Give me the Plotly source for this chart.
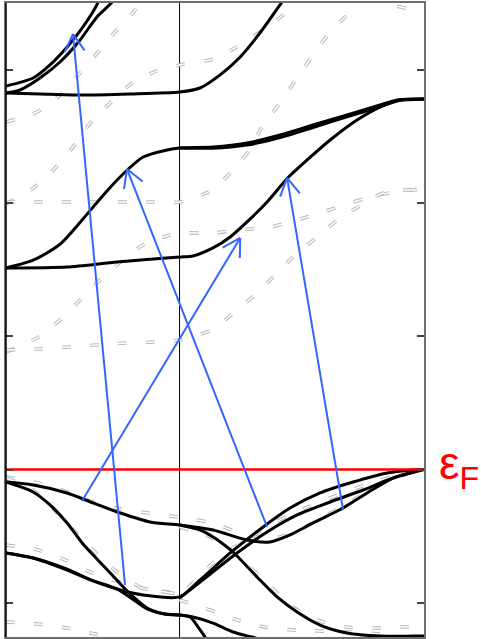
import math
import plotly.graph_objects as go

# k-path: L (left edge) -> Gamma (0) -> X (right edge); energies relative to E_F
K_L, K_G, K_X = -0.71, 0.0, 1.0
E_MIN, E_MAX = -1.2566, 3.4996
E_TICKS = [-1, 0, 1, 2, 3]

# ---- solid bands (k, E) ----
band1_k = [-0.710, -0.599, -0.530, -0.460, -0.395, -0.333, -0.320]
band1_e = [2.877, 2.937, 3.035, 3.170, 3.320, 3.507, 3.600]

band2_k = [-0.710, -0.653, -0.571, -0.489, -0.407, -0.338, -0.276, -0.262]
band2_e = [2.824, 2.847, 2.937, 3.057, 3.222, 3.395, 3.507, 3.560]

band3_k = [-0.710, -0.571, -0.407, -0.202, 0.0, 0.084, 0.166, 0.248, 0.329, 0.419, 0.440]
band3_e = [2.824, 2.817, 2.809, 2.817, 2.832, 2.862, 2.960, 3.095, 3.275, 3.507, 3.560]

band4_k = [-0.710, -0.599, -0.489, -0.395, -0.297, -0.215, -0.149, -0.051, 0.0,
           0.137, 0.276, 0.411, 0.546, 0.685, 0.820, 0.890, 1.0]
band4_e = [1.512, 1.570, 1.690, 1.880, 2.090, 2.245, 2.344, 2.397, 2.412,
           2.419, 2.449, 2.509, 2.584, 2.659, 2.734, 2.772, 2.779]

band4b_k = [0.0, 0.137, 0.276, 0.411, 0.546, 0.685, 0.820, 0.890, 1.0]
band4b_e = [2.412, 2.410, 2.434, 2.490, 2.566, 2.645, 2.722, 2.765, 2.779]

band5_k = [-0.710, -0.460, -0.256, 0.0, 0.055, 0.137, 0.207, 0.276, 0.358, 0.444,
           0.522, 0.616, 0.726, 0.820, 0.902, 1.0]
band5_e = [1.512, 1.519, 1.557, 1.594, 1.602, 1.662, 1.744, 1.857, 2.007, 2.190,
           2.322, 2.472, 2.622, 2.719, 2.772, 2.779]

band6_k = [-0.710, -0.599, -0.460, -0.354, -0.243, -0.121, 0.0,
           0.137, 0.276, 0.370, 0.452, 0.546, 0.669, 0.767, 0.874, 1.0]
band6_e = [-0.094, -0.116, -0.176, -0.251, -0.326, -0.394, -0.416,
           -0.454, -0.529, -0.544, -0.491, -0.401, -0.289, -0.176, -0.064, 0.0]

band7_k = [-0.710, -0.599, -0.530, -0.460, -0.395, -0.338, -0.276, -0.215, -0.133, -0.060, 0.0,
           0.043, 0.076, 0.104, 0.121]
band7_e = [-0.094, -0.169, -0.266, -0.401, -0.559, -0.671, -0.791, -0.911, -1.039, -1.084, -1.092,
           -1.107, -1.182, -1.257, -1.317]

band8_k = [-0.710, -0.599, -0.460, -0.354, -0.243, -0.149, 0.0,
           0.084, 0.207, 0.342, 0.452, 0.575, 0.710, 0.849, 0.950, 1.0]
band8_e = [-0.626, -0.664, -0.754, -0.836, -0.904, -0.941, -0.956,
           -0.829, -0.626, -0.431, -0.289, -0.176, -0.094, -0.026, -0.004, 0.0]

band9_k = [0.0, 0.084, 0.235, 0.358, 0.481, 0.616, 0.751, 0.874, 1.0]
band9_e = [-0.964, -0.844, -0.626, -0.469, -0.341, -0.244, -0.154, -0.064, 0.0]

band10_k = [-0.710, -0.599, -0.460, -0.366, -0.256, -0.190, -0.133, -0.060, 0.0,
            0.055, 0.137, 0.219, 0.297, 0.340]
band10_e = [-0.626, -0.664, -0.748, -0.826, -0.895, -0.975, -1.045, -1.084, -1.092,
            -1.107, -1.152, -1.219, -1.257, -1.280]

band11_k = [0.0, 0.084, 0.137, 0.194, 0.219, 0.317, 0.399, 0.481, 0.575, 0.685, 0.820, 0.955, 1.0]
band11_e = [-0.416, -0.454, -0.506, -0.581, -0.619, -0.806, -0.956, -1.069, -1.167, -1.227,
            -1.250, -1.250, -1.250]

solid_bands = [
    (band1_k, band1_e), (band2_k, band2_e), (band3_k, band3_e),
    (band4_k, band4_e), (band4b_k, band4b_e), (band5_k, band5_e),
    (band6_k, band6_e), (band7_k, band7_e), (band8_k, band8_e),
    (band9_k, band9_e), (band10_k, band10_e), (band11_k, band11_e),
]

# ---- dashed (reference) bands ----
ref1_k = [-0.710, -0.583, -0.489, -0.407, -0.333, -0.264, -0.182, -0.141]
ref1_e = [2.607, 2.682, 2.809, 2.975, 3.132, 3.282, 3.447, 3.560]

ref2_k = [-0.710, -0.599, -0.509, -0.436, -0.366, -0.284, -0.194, -0.092, 0.0,
          0.137, 0.235, 0.329, 0.432, 0.470]
ref2_e = [1.992, 2.111, 2.262, 2.419, 2.599, 2.749, 2.899, 2.990, 3.035,
          3.079, 3.170, 3.282, 3.425, 3.550]

ref3_k = [-0.710, -0.571, -0.338, -0.108, 0.0, 0.133, 0.215, 0.280, 0.342, 0.411,
          0.481, 0.546, 0.616, 0.698, 0.760]
ref3_e = [2.007, 2.007, 2.007, 2.007, 2.007, 2.097, 2.239, 2.382, 2.584, 2.749,
          2.937, 3.110, 3.282, 3.432, 3.560]

ref4_k = [-0.710, -0.583, -0.489, -0.407, -0.325, -0.231, -0.149, -0.039, 0.0,
          0.137, 0.248, 0.370, 0.481, 0.587, 0.698, 0.808, 0.955, 1.0]
ref4_e = [0.881, 0.987, 1.122, 1.272, 1.422, 1.572, 1.684, 1.759, 1.774,
          1.774, 1.797, 1.819, 1.872, 1.932, 1.999, 2.059, 2.097, 2.104]

ref5_k = [-0.710, -0.571, -0.456, -0.338, -0.223, -0.108, 0.0, 0.043, 0.133, 0.219,
          0.309, 0.391, 0.473, 0.563, 0.657, 0.759, 0.833, 0.931, 1.0]
ref5_e = [0.896, 0.904, 0.919, 0.934, 0.949, 0.957, 0.971, 0.994, 1.046, 1.174,
          1.309, 1.459, 1.609, 1.744, 1.887, 1.999, 2.074, 2.097, 2.104]

ref6_k = [0.780, 0.860, 0.930, 1.0]
ref6_e = [3.530, 3.490, 3.460, 3.450]

ref7_k = [-0.710, -0.578, -0.456, -0.354, -0.264, -0.129, -0.010, 0.133, 0.248,
          0.370, 0.473, 0.575, 0.700, 0.850, 1.0]
ref7_e = [-0.056, -0.101, -0.169, -0.244, -0.289, -0.326, -0.356, -0.401, -0.476,
          -0.520, -0.470, -0.370, -0.240, -0.080, 0.0]

ref8_k = [-0.710, -0.599, -0.505, -0.423, -0.342, -0.256, -0.153, -0.027, 0.031,
          0.105, 0.186, 0.276, 0.370, 0.500, 0.650, 0.800, 1.0]
ref8_e = [-0.064, -0.154, -0.319, -0.476, -0.626, -0.769, -0.889, -0.919, -0.889,
          -0.754, -0.626, -0.529, -0.416, -0.300, -0.190, -0.090, 0.0]

ref9_k = [-0.710, -0.579, -0.477, -0.366, -0.243, -0.121, 0.0]
ref9_e = [-0.566, -0.604, -0.671, -0.769, -0.844, -0.904, -0.934]

ref10_k = [-0.710, -0.579, -0.460, -0.346, -0.243]
ref10_e = [-1.144, -1.159, -1.189, -1.234, -1.287]

ref11_k = [0.0, 0.125, 0.219, 0.288, 0.378, 0.464, 0.563, 0.685, 0.800, 0.911, 1.0]
ref11_e = [-0.431, -0.506, -0.626, -0.731, -0.889, -1.032, -1.129, -1.182, -1.189, -1.182, -1.182]

ref12_k = [0.0, 0.125, 0.235, 0.350, 0.464, 0.575, 0.698, 0.820, 0.874, 0.944]
ref12_e = [-0.979, -1.054, -1.129, -1.182, -1.204, -1.212, -1.219, -1.234, -1.242, -1.280]

dashed_bands = [
    (ref1_k, ref1_e), (ref2_k, ref2_e), (ref3_k, ref3_e), (ref4_k, ref4_e),
    (ref5_k, ref5_e), (ref6_k, ref6_e), (ref7_k, ref7_e), (ref8_k, ref8_e),
    (ref9_k, ref9_e), (ref10_k, ref10_e), (ref11_k, ref11_e), (ref12_k, ref12_e),
]

# ---- optical transitions: (k_start, E_start, k_end, E_end) ----
transition_k0 = [-0.223, 0.358, -0.399, 0.669]
transition_e0 = [-0.866, -0.431, -0.236, -0.304]
transition_k1 = [-0.436, -0.215, 0.248, 0.440]
transition_e1 = [3.267, 2.254, 1.737, 2.187]

# figure geometry
W, H = 481, 639
ML, MR, MT, MB = 6, 57, 3, 2
PW, PH = W - ML - MR, H - MT - MB
SX = PW / (K_X - K_L)
SY = PH / (E_MAX - E_MIN)

fig = go.Figure()

DASH = "9px,19px"
SMOOTH = 0.7
for k, e in dashed_bands:
    fig.add_trace(go.Scatter(x=k, y=e, mode="lines", hoverinfo="skip",
                             line=dict(color="#b8b8b8", width=3.6, dash=DASH,
                                       shape="spline", smoothing=SMOOTH)))
    fig.add_trace(go.Scatter(x=k, y=e, mode="lines", hoverinfo="skip",
                             line=dict(color="#ffffff", width=1.5, dash=DASH,
                                       shape="spline", smoothing=SMOOTH)))

for k, e in solid_bands:
    fig.add_trace(go.Scatter(x=k, y=e, mode="lines", hoverinfo="skip",
                             line=dict(color="#000000", width=3,
                                       shape="spline", smoothing=SMOOTH)))

# Fermi level
fig.add_trace(go.Scatter(x=[K_L - 0.01, K_X], y=[0, 0], mode="lines", hoverinfo="skip",
                         line=dict(color="#ff0000", width=2.6)))


def arrow_path(k0, e0, k1, e1, head=20.0, ang=30.0):
    # shaft plus open V head, head size given in screen pixels
    dx, dy = (k0 - k1) * SX, (e0 - e1) * SY
    n = math.hypot(dx, dy)
    ux, uy = dx / n, dy / n
    xs, ys = [k0, k1, None], [e0, e1, None]
    for s in (1, -1):
        a = math.radians(ang) * s
        wx = ux * math.cos(a) - uy * math.sin(a)
        wy = ux * math.sin(a) + uy * math.cos(a)
        xs += [k1, k1 + wx * head / SX, None]
        ys += [e1, e1 + wy * head / SY, None]
    return xs, ys


for k0, e0, k1, e1 in zip(transition_k0, transition_e0, transition_k1, transition_e1):
    ax, ay = arrow_path(k0, e0, k1, e1)
    fig.add_trace(go.Scatter(x=ax, y=ay, mode="lines", hoverinfo="skip",
                             line=dict(color="#3366ff", width=2)))

# Gamma line
fig.add_shape(type="line", x0=K_G, x1=K_G, y0=E_MIN, y1=E_MAX, xref="x", yref="y",
              line=dict(color="#000000", width=1), layer="below")
# left frame edge
fig.add_shape(type="line", x0=0, x1=0, y0=0, y1=1, xref="paper", yref="paper",
              line=dict(color="#000000", width=1.5))

fig.add_annotation(x=1.0, y=0, xref="paper", yref="y", xanchor="left", yanchor="middle",
                   xshift=13, yshift=3, showarrow=False,
                   text="ε<sub>F</sub>",
                   font=dict(family="Liberation Sans, Arial, sans-serif", size=46, color="#ff0000"))

fig.update_layout(
    width=W, height=H,
    margin=dict(l=ML, r=MR, t=MT, b=MB, pad=0),
    paper_bgcolor="white", plot_bgcolor="white",
    showlegend=False,
    xaxis=dict(range=[K_L, K_X], showgrid=False, zeroline=False, showticklabels=False,
               ticks="", showline=True, mirror=True, linecolor="#6e6e6e", linewidth=1.5),
    yaxis=dict(range=[E_MIN, E_MAX], showgrid=False, zeroline=False, showticklabels=False,
               tickvals=E_TICKS, ticks="inside", ticklen=7, tickwidth=1.5, tickcolor="#444444",
               showline=True, mirror="ticks", linecolor="#6e6e6e", linewidth=1.5),
)

fig.write_html("out.html")
